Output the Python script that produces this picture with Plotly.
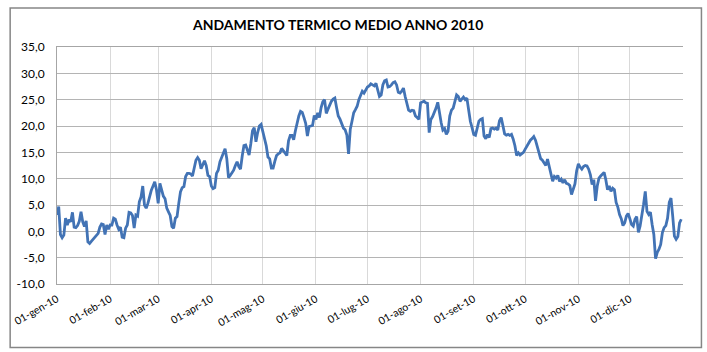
import datetime as dt
import plotly.graph_objects as go

# ---- data (daily mean temperature, 2010) ----
gen = [3.1, 4.7, -0.6, -1.2, -0.7, 2.5, 1.2, 2.2, 1.8, 3.6, 0.8, 0.7, 1.1, 1.9, 3.7, 1.8,
       0.9, 2.0, -2.0, -2.3, -1.9, -1.5, -1.1, -0.8, -0.4, 0.8, 1.4, 1.3, -0.6, 1.2, 0.4]
feb = [1.2, 1.2, 2.5, 2.3, 1.2, 0.4, 0.8, -1.1, -1.2, 0.6, 1.2, 3.6, 3.5, 3.0, 0.6, 3.1,
       2.9, 5.6, 6.5, 8.6, 5.0, 4.4, 5.3, 6.6, 7.8, 8.6, 9.4, 7.9]
mar = [5.3, 9.1, 8.0, 6.7, 6.2, 4.4, 3.7, 3.0, 0.9, 0.6, 2.5, 2.8, 5.3, 7.5, 8.3, 8.5,
       10.4, 11.0, 11.0, 10.9, 10.5, 12.2, 13.5, 14.0, 13.5, 11.9, 12.8, 13.4, 12.5, 10.6, 10.4]
apr = [8.6, 8.1, 8.3, 11.0, 11.6, 13.2, 14.1, 15.1, 15.7, 13.8, 10.2, 10.6, 11.2, 11.6, 12.5,
       13.2, 12.3, 11.8, 14.3, 16.3, 16.4, 15.4, 14.5, 16.6, 19.1, 19.7, 17.0, 18.75, 20.0, 20.3]
mag = [19.1, 17.6, 16.25, 14.1, 13.75, 12.0, 12.0, 13.3, 14.4, 14.7, 14.9, 15.75, 15.3, 15.0,
       14.4, 17.2, 18.2, 18.2, 17.4, 19.1, 20.9, 21.9, 22.8, 22.6, 21.6, 20.5, 18.1, 19.9, 20.0,
       20.1, 22.0]
giu = [21.25, 22.5, 21.6, 23.5, 24.6, 25.0, 22.4, 23.2, 24.0, 24.7, 25.1, 25.3, 23.5, 21.9,
       21.3, 20.5, 19.6, 19.3, 18.3, 14.7, 19.4, 20.9, 22.5, 23.1, 23.75, 25.0, 25.9, 26.6,
       26.25, 26.9]
lug = [27.4, 27.6, 28.0, 27.8, 27.6, 28.1, 26.9, 25.6, 25.9, 27.8, 28.6, 28.75, 27.4, 27.5,
       27.8, 28.25, 28.4, 27.8, 26.4, 26.25, 26.6, 27.2, 25.6, 24.4, 23.0, 22.8, 23.0, 22.9,
       21.9, 21.6, 21.25]
ago = [24.4, 24.5, 24.7, 24.4, 24.3, 18.75, 21.25, 21.8, 22.5, 23.4, 24.5, 22.3, 20.6, 19.2,
       19.5, 18.4, 19.0, 21.9, 23.0, 23.4, 25.0, 25.9, 25.6, 24.7, 25.1, 25.5, 25.0, 25.3, 23.1,
       20.9, 19.7]
sett = [18.4, 18.25, 19.4, 20.9, 21.25, 21.4, 18.1, 17.6, 18.4, 17.8, 19.5, 19.6, 19.4, 19.6,
        19.25, 21.0, 21.6, 19.9, 18.5, 18.25, 18.4, 18.2, 18.4, 17.5, 16.25, 14.4, 14.9, 14.5,
        14.7, 15.0]
ott = [15.6, 16.25, 16.9, 17.3, 17.6, 18.0, 17.3, 16.1, 15.4, 13.8, 13.5, 13.1, 12.5, 13.7,
       12.1, 11.1, 9.5, 10.4, 10.1, 10.6, 9.5, 9.9, 9.2, 9.8, 9.1, 9.0, 8.7, 7.0, 7.9, 9.0, 11.5]
nov = [12.8, 12.2, 11.8, 12.3, 12.5, 12.4, 11.8, 10.75, 8.9, 9.8, 5.8, 8.6, 10.1, 10.5, 10.9,
       11.2, 9.8, 7.9, 8.6, 7.6, 8.2, 7.9, 5.5, 4.6, 3.2, 2.4, 1.1, 1.6, 2.9, 3.4]
dic = [2.4, 1.3, 1.0, 2.3, 2.8, -0.2, 1.0, 2.9, 5.1, 7.6, 3.8, 3.2, 3.65, 1.3, -0.6, -5.2,
       -4.0, -3.4, -2.5, -0.25, 0.7, 1.1, 2.5, 5.5, 6.3, 2.9, -0.9, -1.5, -1.0, 1.6, 2.3]

temps = gen + feb + mar + apr + mag + giu + lug + ago + sett + ott + nov + dic
start = dt.date(2010, 1, 1)
dates = [start + dt.timedelta(days=i) for i in range(len(temps))]

month_ticks = [dt.date(2010, m, 1) for m in range(1, 13)]
month_labels = ["01-gen-10", "01-feb-10", "01-mar-10", "01-apr-10", "01-mag-10", "01-giu-10",
                "01-lug-10", "01-ago-10", "01-set-10", "01-ott-10", "01-nov-10", "01-dic-10"]
y_ticks = [-10, -5, 0, 5, 10, 15, 20, 25, 30, 35]
y_labels = ["-10,0", "-5,0", "0,0", "5,0", "10,0", "15,0", "20,0", "25,0", "30,0", "35,0"]

title_text = "ANDAMENTO TERMICO MEDIO ANNO 2010"

W, H = 707, 352
L, R, T, B = 55, 24, 47, 68
pw, ph = W - L - R, H - T - B

fig = go.Figure()
fig.add_trace(go.Scatter(x=dates, y=temps, mode="lines",
                         line=dict(color="#4273B5", width=2.8), hoverinfo="skip"))

font = "Lato, Carlito, Calibri, 'Open Sans', sans-serif"

fig.update_layout(
    width=W, height=H,
    margin=dict(l=L, r=R, t=T, b=B),
    paper_bgcolor="white", plot_bgcolor="white",
    showlegend=False,
    font=dict(family=font, size=12, color="#000000"),
    title=dict(text="<b>" + title_text + "</b>", x=(337 - L) / pw, xref="paper",
               xanchor="center", y=1 - 25 / H, yanchor="middle",
               font=dict(family=font, size=14, color="#000000")),
    xaxis=dict(type="date", range=["2010-01-01", "2011-01-01"],
               tickvals=month_ticks, ticktext=month_labels, tickangle=-30,
               showgrid=True, gridcolor="#D9D9D9", gridwidth=1,
               showline=True, linecolor="#A6A6A6", linewidth=1, mirror=True,
               ticks="", zeroline=False, ticklabelstandoff=4,
               tickfont=dict(size=10.5)),
    yaxis=dict(range=[-10, 35], tickvals=y_ticks, ticktext=y_labels,
               showgrid=True, gridcolor="#B4B4B4", gridwidth=1,
               showline=True, linecolor="#A6A6A6", linewidth=1,
               ticks="", zeroline=False, ticklabelstandoff=9,
               tickfont=dict(size=12)),
)

# outer chart frame
fig.add_shape(type="rect", xref="paper", yref="paper",
              x0=(8 - L) / pw, x1=(701.5 - L) / pw,
              y0=-(347.5 - (H - B)) / ph, y1=1 + (T - 8) / ph,
              line=dict(color="#868686", width=1.5), layer="below")

fig.write_html("out.html")
